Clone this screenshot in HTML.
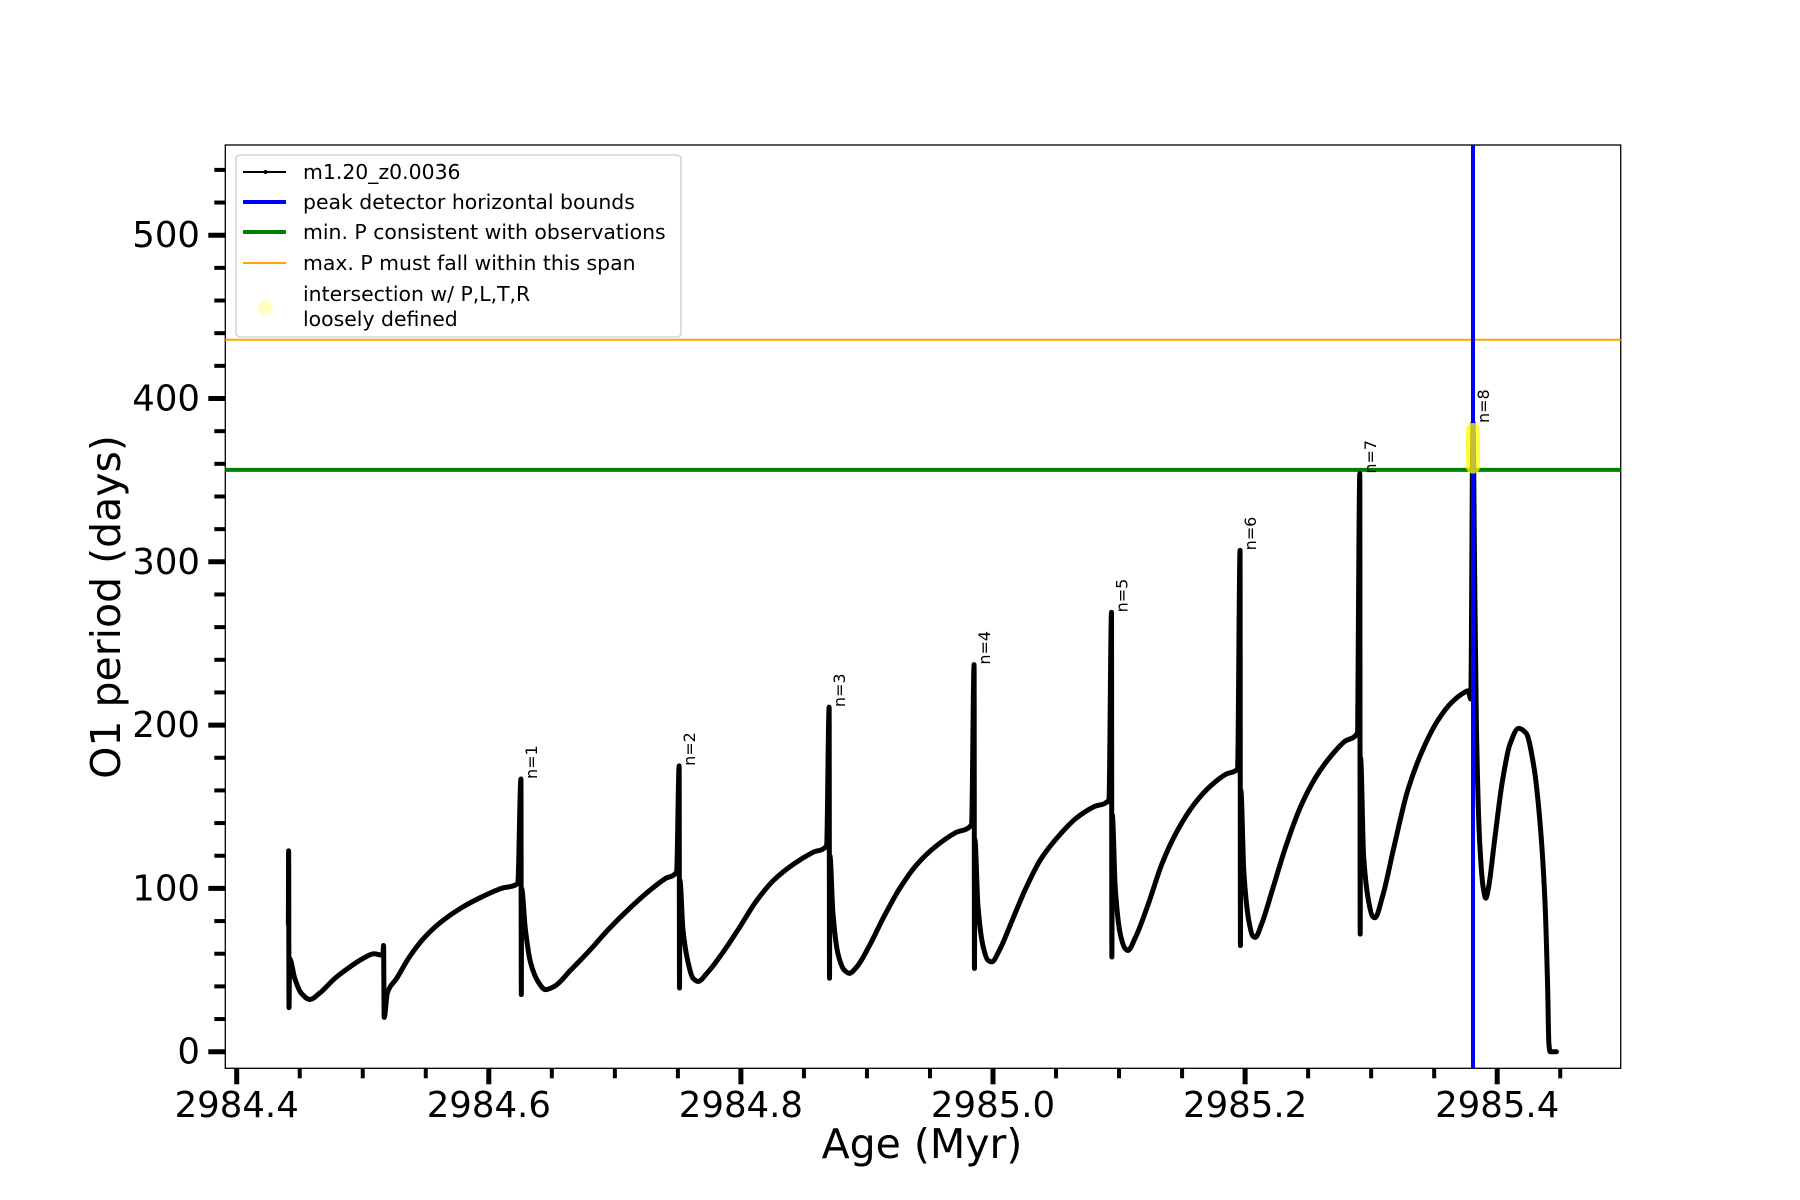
<!DOCTYPE html>
<html><head><meta charset="utf-8"><style>
html,body{margin:0;padding:0;background:#fff;}
svg{display:block;font-family:"DejaVu Sans","Liberation Sans",sans-serif;}
</style></head><body>
<svg id="chart" width="1800" height="1200" viewBox="0 0 1800 1200">
<rect width="1800" height="1200" fill="#fff"/>
<g id="plot"></g>
</svg>
<script>
const ages = [2984.441,2984.4412,2984.4415,2984.442,2984.446,2984.451,2984.458,2984.466,2984.478,2984.490,2984.500,2984.509,2984.516,2984.5165,2984.517,2984.5195,2984.527,2984.537,2984.549,2984.563,2984.578,2984.595,2984.610,2984.623,
2984.6255,2984.6258,2984.626,2984.629,2984.633,2984.639,2984.645,2984.652,2984.665,2984.680,2984.695,2984.712,2984.728,2984.740,2984.749,
2984.751,2984.7513,2984.7516,2984.754,2984.758,2984.762,2984.766,2984.773,2984.785,2984.798,2984.812,2984.826,2984.842,2984.857,2984.868,
2984.870,2984.8703,2984.8706,2984.873,2984.877,2984.882,2984.886,2984.892,2984.902,2984.913,2984.926,2984.940,2984.955,2984.970,2984.983,
2984.985,2984.9853,2984.9856,2984.988,2984.992,2984.996,2984.999,2985.005,2985.015,2985.026,2985.038,2985.052,2985.066,2985.080,2985.092,
2985.094,2985.0943,2985.0946,2985.097,2985.101,2985.105,2985.107,2985.113,2985.123,2985.134,2985.146,2985.160,2985.173,2985.185,2985.194,
2985.196,2985.1963,2985.1966,2985.199,2985.203,2985.206,2985.208,2985.213,2985.222,2985.232,2985.244,2985.256,2985.267,2985.279,2985.289,
2985.291,2985.2913,2985.2916,2985.294,2985.298,2985.301,2985.303,2985.309,2985.318,2985.329,2985.341,2985.353,2985.364,2985.374,2985.377,2985.379,
2985.3808,2985.382,2985.3835,2985.386,2985.389,2985.391,2985.393,2985.398,2985.404,2985.410,2985.417,2985.423,2985.429,2985.434,2985.438,2985.440,2985.441,2985.442,2985.447];
const periods = [78,123,27,57,45,36,32,36,45,52,57,60,59,65,21,36,45,58,70,80,88,95,100,103,
167,35,100,75,55,43,38,40,50,62,75,88,99,106,110,
175,39,105,75,55,45,43,48,60,75,92,105,115,122,126,
211,45,120,85,60,50,48,52,65,82,100,115,126,134,139,
237,51,130,90,65,56,55,62,80,100,118,132,143,150,154,
269,58,145,100,72,63,62,70,90,115,135,152,163,170,173,
307,65,160,110,80,71,70,78,100,125,150,168,180,190,195,
354,72,180,120,92,83,82,95,125,160,185,203,214,220,221,216,
385,300,200,130,100,94,100,130,165,188,198,195,175,140,90,40,5,0,0];
const peakLabels = ["n=1","n=2","n=3","n=4","n=5","n=6","n=7","n=8"];
const peakAges = [2984.6255,2984.751,2984.870,2984.985,2985.094,2985.196,2985.291,2985.3808];
const peakPeriods = [167,175,211,237,269,307,354,385];
const minP = [356.3];
const maxP = [436];
const boundAge = [2985.3808];
const xTicks = [2984.4,2984.6,2984.8,2985.0,2985.2,2985.4];
const xTickLabels = ["2984.4","2984.6","2984.8","2985.0","2985.2","2985.4"];
const yTicks = [0,100,200,300,400,500];
const yTickLabels = ["0","100","200","300","400","500"];

const L=225.3,R=1620.7,T=145,B=1068.3;
const X=a=>236.7+(a-2984.4)*1260.5;
const Y=p=>1051.7-p*1.633;
const NS="http://www.w3.org/2000/svg";
const g=document.getElementById('plot');
function mk(t,attrs){const e=document.createElementNS(NS,t);for(const k in attrs)e.setAttribute(k,attrs[k]);g.appendChild(e);return e;}

// monotone cubic path
function monoPath(xs,ys){
  const n=xs.length,dx=[],m=[],t=new Array(n);
  for(let i=0;i<n-1;i++){dx[i]=xs[i+1]-xs[i];m[i]=(ys[i+1]-ys[i])/dx[i];}
  t[0]=m[0];t[n-1]=m[n-2];
  for(let i=1;i<n-1;i++){
    if(m[i-1]*m[i]<=0)t[i]=0;
    else{const w1=2*dx[i]+dx[i-1],w2=dx[i]+2*dx[i-1];t[i]=(w1+w2)/(w1/m[i-1]+w2/m[i]);}
  }
  let d='M'+xs[0].toFixed(2)+','+ys[0].toFixed(2);
  for(let i=0;i<n-1;i++){
    const h=dx[i]/3;
    d+='C'+(xs[i]+h).toFixed(2)+','+(ys[i]+t[i]*h).toFixed(2)+' '+(xs[i+1]-h).toFixed(2)+','+(ys[i+1]-t[i+1]*h).toFixed(2)+' '+xs[i+1].toFixed(2)+','+ys[i+1].toFixed(2);
  }
  return d;
}

let fr=mk('rect',{x:L,y:T,width:R-L,height:B-T,fill:'none',stroke:'#000','stroke-width':1.3});



let gl=mk('line',{x1:L,x2:R,y1:Y(minP[0]),y2:Y(minP[0]),stroke:'#008000','stroke-width':4});


let ol=mk('line',{x1:L,x2:R,y1:Y(maxP[0]),y2:Y(maxP[0]),stroke:'#ffa500','stroke-width':2});



let cv=mk('path',{d:monoPath(ages.map(X),periods.map(Y)),fill:'none',stroke:'#000','stroke-width':5,'stroke-linejoin':'round','stroke-linecap':'round'});



let bl=mk('line',{x1:X(boundAge[0]),x2:X(boundAge[0]),y1:T,y2:B,stroke:'#0000ff','stroke-width':4});



let yi=mk('rect',{x:X(boundAge[0])-7,y:Y(385),width:14,height:Y(354)-Y(385),rx:7,fill:'#ffff00','fill-opacity':0.75});



peakLabels.forEach((s,i)=>{
  const x=X(peakAges[i])+16,y=Y(peakPeriods[i]);
  const t=mk('text',{transform:`translate(${x},${y}) rotate(-90)`,'font-size':16,fill:'#000'});
  t.textContent=s;
  
  
});

for(let v=2984.4;v<=2985.4501;v+=0.05){
  const major=Math.abs(Math.round(v*5)-v*5)<1e-6;
  const x=X(v);
  const tk=mk('line',{x1:x,x2:x,y1:B,y2:B+(major?16:10),stroke:'#000','stroke-width':major?5:4});
  
  
}
xTicks.forEach((v,i)=>{
  const t=mk('text',{x:X(v),y:1117,'font-size':35.5,'text-anchor':'middle',fill:'#000'});
  t.textContent=xTickLabels[i];
  
  
});
for(let v=0;v<=550;v+=20){
  const major=v%100===0;const y=Y(v);
  const tk=mk('line',{x1:L,x2:L-(major?17:11),y1:y,y2:y,stroke:'#000','stroke-width':major?5:4});
  
  
}
yTicks.forEach((v,i)=>{
  const t=mk('text',{x:200,y:Y(v)+12,'font-size':35.5,'text-anchor':'end',fill:'#000'});
  t.textContent=yTickLabels[i];
  
  
});
let xt=mk('text',{x:922,y:1158,'font-size':41,'text-anchor':'middle',fill:'#000'});
xt.textContent='Age (Myr)';


let yt=mk('text',{transform:'translate(120,607) rotate(-90)','font-size':41,'text-anchor':'middle',fill:'#000'});
yt.textContent='O1 period (days)';



let lb=mk('rect',{x:236,y:155,width:445,height:182,rx:4,fill:'#fff','fill-opacity':0.8,stroke:'#cccccc','stroke-width':1.3});


const legendItems=[['m1.20_z0.0036','#000',2,172],['peak detector horizontal bounds','#0000ff',4,202],['min. P consistent with observations','#008000',4,232],['max. P must fall within this span','#ffa500',2,263]];
legendItems.forEach(it=>{
  const ln=mk('line',{x1:243,x2:286,y1:it[3],y2:it[3],stroke:it[1],'stroke-width':it[2]});
  
  
  const t=mk('text',{x:303,y:it[3]+7,'font-size':20.4,fill:'#000'});
  t.textContent=it[0];
  
  
});
let dot=mk('circle',{cx:265.5,cy:172,r:2,fill:'#000'});


let yc=mk('circle',{cx:265.5,cy:308,r:7.5,fill:'#ffffc0'});


let t1=mk('text',{x:303,y:301,'font-size':20.4,fill:'#000'});
t1.textContent='intersection w/ P,L,T,R';


let t2=mk('text',{x:303,y:326,'font-size':20.4,fill:'#000'});
t2.textContent='loosely defined';


</script>
</body></html>
